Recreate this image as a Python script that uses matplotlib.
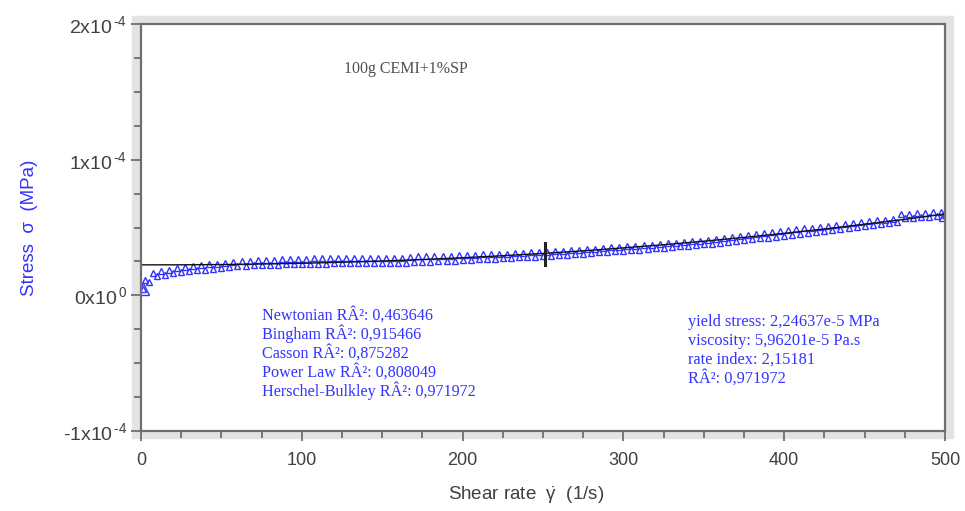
import matplotlib.pyplot as plt
from matplotlib.patches import Rectangle
from matplotlib.ticker import FixedLocator, MultipleLocator

# measured points, stress in 1e-6 MPa
x_up = [2.5, 7.5, 12.5, 17.5, 22.5, 27.5, 32.5, 37.5, 42.5, 47.5,
        52.5, 57.5, 62.5, 67.5, 72.5, 77.5, 82.5, 87.5, 92.5, 97.5,
        102.5, 107.5, 112.5, 117.5, 122.5, 127.5, 132.5, 137.5, 142.5, 147.5,
        152.5, 157.5, 162.5, 167.5, 172.5, 177.5, 182.5, 187.5, 192.5, 197.5,
        202.5, 207.5, 212.5, 217.5, 222.5, 227.5, 232.5, 237.5, 242.5, 247.5,
        252.5, 257.5, 262.5, 267.5, 272.5, 277.5, 282.5, 287.5, 292.5, 297.5,
        302.5, 307.5, 312.5, 317.5, 322.5, 327.5, 332.5, 337.5, 342.5, 347.5,
        352.5, 357.5, 362.5, 367.5, 372.5, 377.5, 382.5, 387.5, 392.5, 397.5,
        402.5, 407.5, 412.5, 417.5, 422.5, 427.5, 432.5, 437.5, 442.5, 447.5,
        452.5, 457.5, 462.5, 467.5, 472.5, 477.5, 482.5, 487.5, 492.5, 497.5]
y_up = [11.0, 16.8, 17.8, 18.8, 19.8, 20.6, 21.4, 22.1, 22.8, 23.4,
        24.0, 24.6, 25.1, 25.5, 25.9, 26.2, 26.4, 26.6, 26.8, 27.0,
        27.1, 27.2, 27.3, 27.3, 27.4, 27.4, 27.5, 27.5, 27.6, 27.6,
        27.7, 27.7, 27.8, 28.6, 28.7, 28.8, 28.9, 29.1, 29.3, 29.5,
        29.7, 29.9, 30.1, 30.3, 30.5, 30.8, 31.1, 31.4, 31.7, 32.0,
        32.3, 32.6, 32.9, 33.3, 33.7, 34.1, 34.5, 34.9, 35.3, 35.7,
        36.1, 36.5, 36.9, 37.4, 37.9, 38.4, 38.9, 39.4, 39.9, 40.4,
        41.0, 41.6, 42.3, 43.0, 43.7, 44.4, 45.1, 45.8, 46.5, 47.2,
        47.9, 48.6, 49.3, 50.0, 50.7, 51.4, 52.1, 52.8, 53.4, 54.0,
        54.6, 55.2, 55.8, 56.4, 59.6, 60.2, 60.5, 60.8, 61.2, 61.6]

x_dn = [1.5, 5, 10, 15, 20, 25, 30, 35, 40, 45,
        50, 55, 60, 65, 70, 75, 80, 85, 90, 95,
        100, 105, 110, 115, 120, 125, 130, 135, 140, 145,
        150, 155, 160, 165, 170, 175, 180, 185, 190, 195,
        200, 205, 210, 215, 220, 225, 230, 235, 240, 245,
        250, 255, 260, 265, 270, 275, 280, 285, 290, 295,
        300, 305, 310, 315, 320, 325, 330, 335, 340, 345,
        350, 355, 360, 365, 370, 375, 380, 385, 390, 395,
        400, 405, 410, 415, 420, 425, 430, 435, 440, 445,
        450, 455, 460, 465, 470, 475, 480, 485, 490, 495, 500]
y_dn = [4.5, 10.0, 14.0, 15.2, 16.2, 17.0, 17.7, 18.4, 19.0, 19.6,
        20.2, 20.8, 21.3, 21.7, 22.0, 22.2, 22.4, 22.6, 22.8, 23.0,
        23.1, 23.2, 23.3, 23.4, 23.5, 23.5, 23.6, 23.7, 23.8, 23.8,
        23.9, 24.0, 24.1, 24.2, 24.4, 24.6, 24.8, 25.0, 25.3, 25.6,
        25.9, 26.2, 26.5, 26.8, 27.1, 27.4, 27.7, 28.0, 28.3, 28.6,
        29.0, 29.3, 29.6, 30.0, 30.4, 30.8, 31.2, 31.6, 32.0, 32.4,
        32.8, 33.2, 33.6, 34.1, 34.6, 35.1, 35.6, 36.1, 36.6, 37.1,
        37.6, 38.1, 38.6, 39.2, 39.8, 40.5, 41.2, 41.9, 42.6, 43.3,
        44.0, 44.7, 45.4, 46.1, 46.8, 47.5, 48.2, 48.9, 49.6, 50.3,
        51.0, 51.7, 52.4, 53.1, 53.8, 56.8, 57.2, 57.5, 57.9, 58.3, 59.2]

# Herschel-Bulkley fit curve
fit_x = [0, 25, 50, 75, 100, 125, 150, 175, 200, 225, 250,
         275, 300, 325, 350, 375, 400, 425, 450, 475, 500]
fit_y = [22.46, 22.5, 22.7, 23.1, 23.6, 24.4, 25.3, 26.4, 27.7, 29.2, 30.9,
         32.8, 35.0, 37.3, 39.9, 42.7, 45.7, 48.9, 52.4, 56.0, 60.0]

cursor_x = 251
cursor_lo, cursor_hi = 22.2, 38.5

y_ticks = [-1e-4, 0, 1e-4, 2e-4]
y_ticklabels = [r'-1x10$^{\,\text{-4}}$', r'0x10$^{\,\text{0}}$',
                r'1x10$^{\,\text{-4}}$', r'2x10$^{\,\text{-4}}$']
x_ticks = [0, 100, 200, 300, 400, 500]

fit_names = ['Newtonian', 'Bingham', 'Casson', 'Power Law', 'Herschel-Bulkley']
fit_r2 = ['0,463646', '0,915466', '0,875282', '0,808049', '0,971972']
hb_lines = ['yield stress: 2,24637e-5 MPa', 'viscosity: 5,96201e-5 Pa.s',
            'rate index: 2,15181', 'RÂ²: 0,971972']

plt.rcParams['font.family'] = ['Liberation Sans', 'DejaVu Sans']
plt.rcParams['mathtext.fontset'] = 'custom'
plt.rcParams['mathtext.rm'] = 'Liberation Sans'
plt.rcParams['mathtext.it'] = 'Liberation Sans'
plt.rcParams['axes.unicode_minus'] = False

blue = '#3232ff'
grey = '#6e6e6e'
txt = '#404040'
sc = 1e-6

fig = plt.figure(figsize=(9.65, 5.11), dpi=100)
frame = Rectangle((132 / 965, 73 / 511), 821 / 965, 422 / 511,
                  transform=fig.transFigure, color='#e3e3e3', zorder=-5)
fig.add_artist(frame)
ax = fig.add_axes([141 / 965, 80 / 511, 804 / 965, 407 / 511])
ax.set_zorder(2)
ax.set_facecolor('white')

ax.plot(x_up, [v * sc for v in y_up], ls='none', marker='^', ms=5,
        mfc='none', mec=blue, mew=1.0)
ax.plot(x_dn, [v * sc for v in y_dn], ls='none', marker='^', ms=5,
        mfc='none', mec=blue, mew=1.0)
# first and last points are drawn larger
ax.plot([x_dn[0], x_dn[-1]], [y_dn[0] * sc, y_dn[-1] * sc], ls='none', marker='^',
        ms=8, mfc='none', mec=blue, mew=1.0)
ax.plot(fit_x, [v * sc for v in fit_y], color='#111111', lw=1.0)
ax.plot([cursor_x, cursor_x], [cursor_lo * sc, cursor_hi * sc], color='#222222', lw=2.2)

ax.set_xlim(0, 500)
ax.set_ylim(-1e-4, 2e-4)
ax.yaxis.set_major_locator(FixedLocator(y_ticks))
ax.set_yticklabels(y_ticklabels)
ax.yaxis.set_minor_locator(MultipleLocator(0.25e-4))
ax.set_xticks(x_ticks)
ax.xaxis.set_minor_locator(MultipleLocator(25))
ax.tick_params(which='both', direction='out', color=grey, width=1.3, labelcolor=txt,
               labelsize=13)
ax.tick_params(axis='y', labelsize=14)
ax.tick_params(which='major', length=7, pad=3)
ax.tick_params(which='minor', length=5)
ax.tick_params(axis='x', pad=8)
for s in ax.spines.values():
    s.set_color(grey)
    s.set_linewidth(1.6)

ax.set_ylabel('Stress  σ  (MPa)', color=blue, fontsize=13.5, labelpad=18)
ax.set_xlabel(r'Shear rate  $\dot{\gamma}$  (1/s)', color=txt, fontsize=13.5)
ax.xaxis.set_label_coords(0.479, -0.132)

ax.text(0.329, 0.89, '100g CEMI+1%SP', transform=ax.transAxes, family='Liberation Serif',
        fontsize=11.5, color='#505050', ha='center', va='center')
for i, (n, r) in enumerate(zip(fit_names, fit_r2)):
    ax.text(0.151, 0.285 - i * 0.0465, f'{n} RÂ²: {r}', transform=ax.transAxes,
            family='Liberation Serif', fontsize=11.6, color=blue, va='center')
for i, line in enumerate(hb_lines):
    ax.text(0.68, 0.268 - i * 0.0465, line, transform=ax.transAxes,
            family='Liberation Serif', fontsize=11.8, color=blue, va='center')

fig.savefig('out.png', dpi=100, facecolor='white')
